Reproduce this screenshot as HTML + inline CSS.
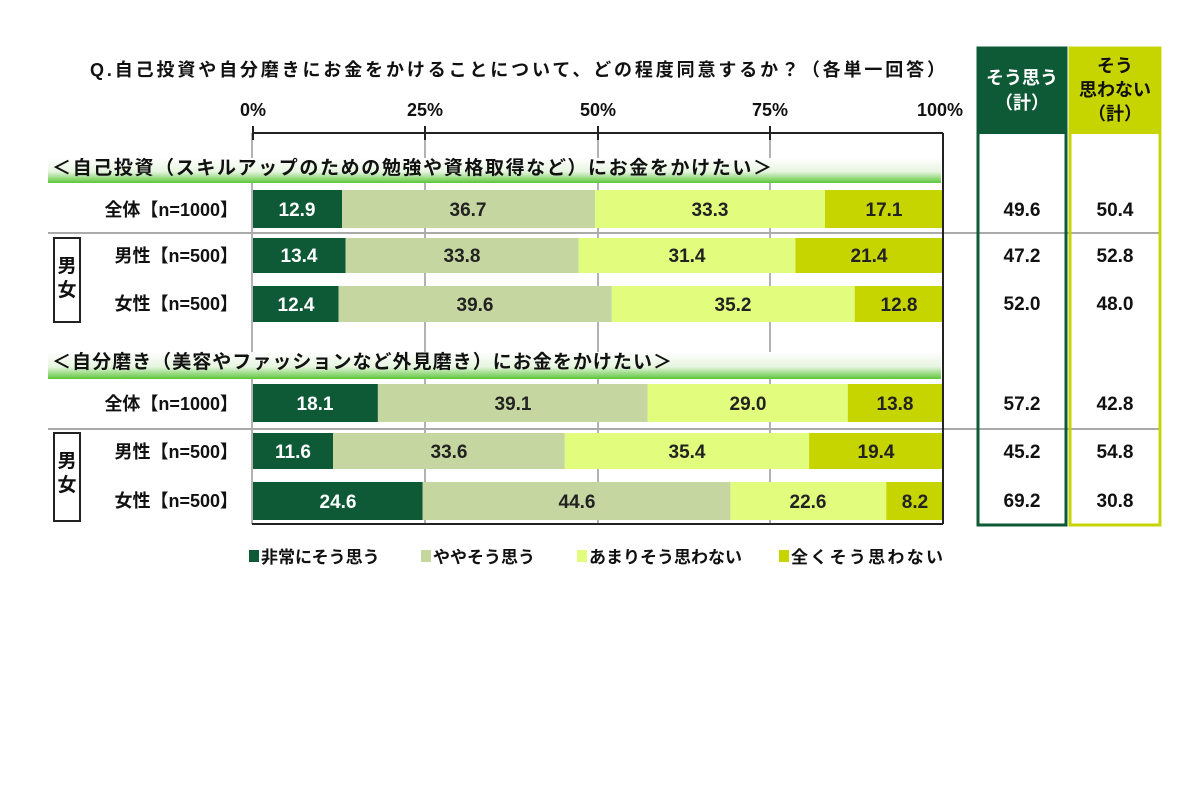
<!DOCTYPE html>
<html><head><meta charset="utf-8"><style>
body{margin:0;background:#fff;}
text{font-family:"Liberation Sans","Noto Sans CJK JP",sans-serif;font-weight:bold;}
</style></head><body>
<svg width="1200" height="800" viewBox="0 0 1200 800" xmlns="http://www.w3.org/2000/svg">
<defs>
<linearGradient id="gb" x1="0" y1="0" x2="0" y2="1">
<stop offset="0" stop-color="#fff"/><stop offset="0.55" stop-color="#e6f5df"/><stop offset="1" stop-color="#5cc63a"/>
</linearGradient>
</defs>
<text x="90" y="76" font-size="18" fill="#111" textLength="855" lengthAdjust="spacing">Q.自己投資や自分磨きにお金をかけることについて、どの程度同意するか？（各単一回答）</text>
<g font-size="18" fill="#111" text-anchor="middle">
<text x="253" y="116">0%</text><text x="425" y="116">25%</text><text x="598" y="116">50%</text><text x="770" y="116">75%</text><text x="940" y="116">100%</text>
</g>
<g stroke="#999" stroke-width="1.5">
<line x1="425" y1="133" x2="425" y2="524"/><line x1="598" y1="133" x2="598" y2="524"/><line x1="770" y1="133" x2="770" y2="524"/>
<line x1="252" y1="133" x2="252" y2="524"/>
</g>
<g stroke="#aaa" stroke-width="2">
<line x1="48" y1="233" x2="1160" y2="233"/><line x1="48" y1="429" x2="1160" y2="429"/>
</g>
<rect x="48" y="158" width="893" height="25" fill="url(#gb)"/>
<rect x="48" y="352" width="893" height="27" fill="url(#gb)"/>
<text x="52" y="174" font-size="19" fill="#111" textLength="720" lengthAdjust="spacing">＜自己投資（スキルアップのための勉強や資格取得など）にお金をかけたい＞</text>
<text x="52" y="368" font-size="19" fill="#111" textLength="620" lengthAdjust="spacing">＜自分磨き（美容やファッションなど外見磨き）にお金をかけたい＞</text>
<g font-size="19" text-anchor="middle">
<g transform="translate(0,190)">
<rect x="253" width="89" height="38" fill="#0e5a36"/><rect x="342" width="253.2" height="38" fill="#c5d6a0"/><rect x="595.2" width="229.8" height="38" fill="#e2fd7d"/><rect x="825" width="118" height="38" fill="#c6d400"/>
<text x="297" y="26" fill="#fff">12.9</text><text x="468" y="26" fill="#222">36.7</text><text x="710" y="26" fill="#222">33.3</text><text x="884" y="26" fill="#222">17.1</text></g>
<g transform="translate(0,238)">
<rect x="253" width="92.5" height="35" fill="#0e5a36"/><rect x="345.5" width="233.2" height="35" fill="#c5d6a0"/><rect x="578.7" width="216.7" height="35" fill="#e2fd7d"/><rect x="795.4" width="147.6" height="35" fill="#c6d400"/>
<text x="299" y="24" fill="#fff">13.4</text><text x="462" y="24" fill="#222">33.8</text><text x="687" y="24" fill="#222">31.4</text><text x="869" y="24" fill="#222">21.4</text></g>
<g transform="translate(0,286)">
<rect x="253" width="85.6" height="36" fill="#0e5a36"/><rect x="338.6" width="273.2" height="36" fill="#c5d6a0"/><rect x="611.8" width="242.9" height="36" fill="#e2fd7d"/><rect x="854.7" width="88.3" height="36" fill="#c6d400"/>
<text x="296" y="25" fill="#fff">12.4</text><text x="475" y="25" fill="#222">39.6</text><text x="733" y="25" fill="#222">35.2</text><text x="899" y="25" fill="#222">12.8</text></g>
<g transform="translate(0,384)">
<rect x="253" width="124.9" height="38" fill="#0e5a36"/><rect x="377.9" width="269.8" height="38" fill="#c5d6a0"/><rect x="647.7" width="200.1" height="38" fill="#e2fd7d"/><rect x="847.8" width="95.2" height="38" fill="#c6d400"/>
<text x="315" y="26" fill="#fff">18.1</text><text x="513" y="26" fill="#222">39.1</text><text x="748" y="26" fill="#222">29.0</text><text x="895" y="26" fill="#222">13.8</text></g>
<g transform="translate(0,433)">
<rect x="253" width="80" height="36" fill="#0e5a36"/><rect x="333" width="231.8" height="36" fill="#c5d6a0"/><rect x="564.8" width="244.3" height="36" fill="#e2fd7d"/><rect x="809.1" width="133.9" height="36" fill="#c6d400"/>
<text x="293" y="25" fill="#fff">11.6</text><text x="449" y="25" fill="#222">33.6</text><text x="687" y="25" fill="#222">35.4</text><text x="876" y="25" fill="#222">19.4</text></g>
<g transform="translate(0,482)">
<rect x="253" width="169.7" height="38" fill="#0e5a36"/><rect x="422.7" width="307.7" height="38" fill="#c5d6a0"/><rect x="730.4" width="155.9" height="38" fill="#e2fd7d"/><rect x="886.3" width="56.7" height="38" fill="#c6d400"/>
<text x="338" y="26" fill="#fff">24.6</text><text x="577" y="26" fill="#222">44.6</text><text x="808" y="26" fill="#222">22.6</text><text x="915" y="26" fill="#222">8.2</text></g>
</g>
<g stroke="#222" stroke-width="2" fill="none">
<line x1="252" y1="133" x2="943" y2="133"/><line x1="943" y1="133" x2="943" y2="524"/><line x1="252" y1="524" x2="943" y2="524"/>
<line x1="253" y1="126" x2="253" y2="140"/><line x1="425" y1="126" x2="425" y2="140"/><line x1="598" y1="126" x2="598" y2="140"/><line x1="770" y1="126" x2="770" y2="140"/>
</g>
<g font-size="18" fill="#111" text-anchor="end">
<text x="238" y="216">全体【n=1000】</text><text x="238" y="262">男性【n=500】</text><text x="238" y="310">女性【n=500】</text>
<text x="238" y="410">全体【n=1000】</text><text x="238" y="458">男性【n=500】</text><text x="238" y="507">女性【n=500】</text>
</g>
<rect x="54" y="238" width="26" height="84" fill="none" stroke="#222" stroke-width="2"/>
<rect x="54" y="433" width="26" height="88" fill="none" stroke="#222" stroke-width="2"/>
<g font-size="19" fill="#111" text-anchor="middle">
<text x="67" y="272">男</text><text x="67" y="296">女</text>
<text x="67" y="467">男</text><text x="67" y="491">女</text>
</g>
<rect x="978" y="48" width="88" height="86" fill="#0e5a36"/>
<rect x="978" y="48" width="88" height="477" fill="none" stroke="#0e5a36" stroke-width="3"/>
<rect x="1070" y="48" width="90" height="86" fill="#c6d400"/>
<rect x="1070" y="48" width="90" height="477" fill="none" stroke="#c6d400" stroke-width="3"/>
<g font-size="18" text-anchor="middle">
<text x="1022" y="84" fill="#fff">そう思う</text><text x="1022" y="109" fill="#fff">（計）</text>
<text x="1115" y="72" fill="#111">そう</text><text x="1115" y="96" fill="#111">思わない</text><text x="1115" y="120" fill="#111">（計）</text>
</g>
<g font-size="19" fill="#111" text-anchor="middle">
<text x="1022" y="216">49.6</text><text x="1115" y="216">50.4</text>
<text x="1022" y="262">47.2</text><text x="1115" y="262">52.8</text>
<text x="1022" y="310">52.0</text><text x="1115" y="310">48.0</text>
<text x="1022" y="410">57.2</text><text x="1115" y="410">42.8</text>
<text x="1022" y="458">45.2</text><text x="1115" y="458">54.8</text>
<text x="1022" y="507">69.2</text><text x="1115" y="507">30.8</text>
</g>
<g font-size="17" fill="#111">
<rect x="249" y="550" width="10" height="12" fill="#0e5a36"/><text x="261" y="563">非常にそう思う</text>
<rect x="421" y="550" width="10" height="12" fill="#c5d6a0"/><text x="433" y="563">ややそう思う</text>
<rect x="577" y="550" width="10" height="12" fill="#e2fd7d"/><text x="589" y="563">あまりそう思わない</text>
<rect x="779" y="550" width="10" height="12" fill="#c6d400"/><text x="791" y="563" textLength="152" lengthAdjust="spacing">全くそう思わない</text>
</g>
</svg>
</body></html>
